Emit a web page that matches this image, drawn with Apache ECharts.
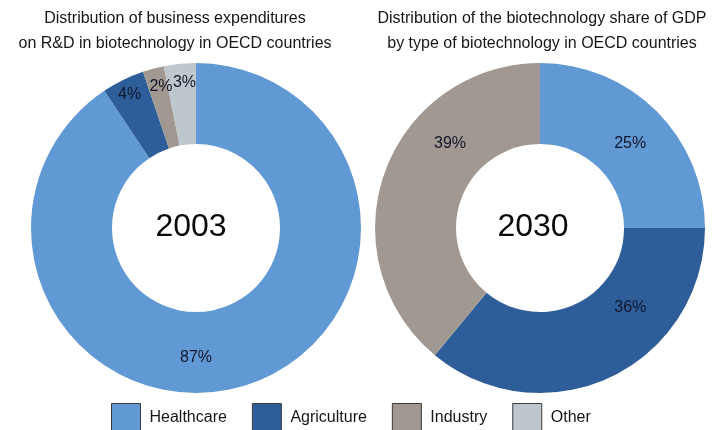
<!DOCTYPE html>
<html>
<head>
<meta charset="utf-8">
<script src="https://cdn.jsdelivr.net/npm/echarts@6/dist/echarts.min.js"></script>
<style>
html,body{margin:0;padding:0;background:#fff;}
#c{width:722px;height:430px;}
</style>
</head>
<body>
<div id="c"></div>
<script>
// Data
var categories = ['Healthcare', 'Agriculture', 'Industry', 'Other'];
var values2003 = [87, 4, 2, 3];
var categories2030 = ['Healthcare', 'Agriculture', 'Industry'];
var values2030 = [25, 36, 39];
var yearLabels = ['2003', '2030'];
var titleLeft = 'Distribution of business expenditures\non R&D in biotechnology in OECD countries';
var titleRight = 'Distribution of the biotechnology share of GDP\nby type of biotechnology in OECD countries';

// Styles
var colors = {Healthcare: '#6099d3', Agriculture: '#2e5e9a', Industry: '#a09891', Other: '#bec8cc'};
var labelOffsets2003 = [[-37, 8], [-10, -19], [-2, -18], [1, -19]];
var labelOffsets2030 = [[0, 6], [36, -36], [30, -41]];
var FONT = '"Liberation Sans", Arial, sans-serif';

function buildData(cats, vals, offs) {
  return cats.map(function (c, i) {
    return {
      name: c,
      value: vals[i],
      itemStyle: {color: colors[c]},
      label: {offset: offs[i]}
    };
  });
}

var chart = echarts.init(document.getElementById('c'), null, {renderer: 'canvas'});
var pieBase = {
  type: 'pie',
  radius: [84, 165],
  startAngle: 90,
  clockwise: true,
  animation: false,
  avoidLabelOverlap: false,
  emphasis: {disabled: true},
  labelLine: {show: false},
  label: {
    show: true,
    position: 'inside',
    formatter: '{c}%',
    color: '#12162a',
    fontSize: 16,
    fontFamily: FONT
  }
};

chart.setOption({
  animation: false,
  title: [
    {text: titleLeft, left: 175, top: 6, textAlign: 'center', padding: 0,
     textStyle: {fontSize: 16, fontWeight: 'normal', color: '#161616', fontFamily: FONT, lineHeight: 25}},
    {text: titleRight, left: 542, top: 6, textAlign: 'center', padding: 0,
     textStyle: {fontSize: 16, fontWeight: 'normal', color: '#161616', fontFamily: FONT, lineHeight: 25}},
    {text: yearLabels[0], left: 191, top: 211, textAlign: 'center', padding: 0,
     textStyle: {fontSize: 32, fontWeight: 'normal', color: '#0a0a0a', fontFamily: FONT}},
    {text: yearLabels[1], left: 533, top: 211, textAlign: 'center', padding: 0,
     textStyle: {fontSize: 32, fontWeight: 'normal', color: '#0a0a0a', fontFamily: FONT}}
  ],
  legend: {
    data: categories,
    left: 111,
    top: 403,
    itemWidth: 29,
    itemHeight: 29,
    itemGap: 25,
    padding: 0,
    icon: 'rect',
    itemStyle: {borderColor: '#3a3a3a', borderWidth: 1},
    textStyle: {fontSize: 16, color: '#161616', fontFamily: FONT, padding: [0, 0, 0, 4]},
    selectedMode: false
  },
  series: [
    Object.assign({}, pieBase, {
      name: '2003',
      center: [196, 228],
      data: buildData(categories, values2003, labelOffsets2003)
    }),
    Object.assign({}, pieBase, {
      name: '2030',
      center: [540, 228],
      data: buildData(categories2030, values2030, labelOffsets2030)
    })
  ]
});
</script>
</body>
</html>
